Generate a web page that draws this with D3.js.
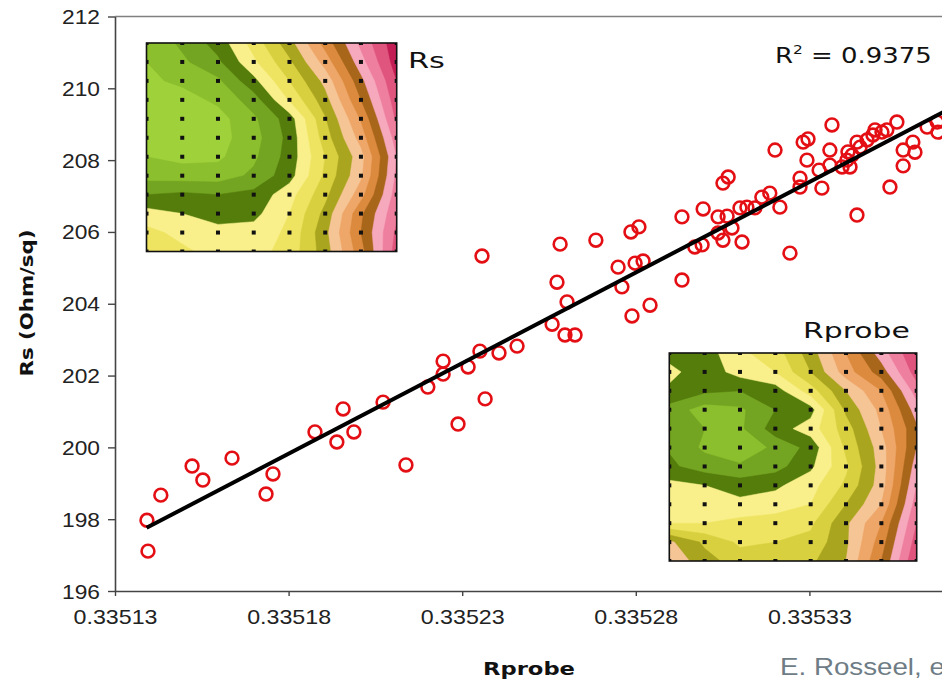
<!DOCTYPE html>
<html><head><meta charset="utf-8">
<script src="https://cdn.jsdelivr.net/npm/d3@7"></script>
<style>body{margin:0;background:#fff}svg{display:block;background:#fff}</style>
</head><body>
<svg id="chart" width="942" height="681"></svg>
<script>
// ---- data ----
const rprobe = [0.3351392,0.3351395,0.3351432,0.3351522,0.3351553,0.3351637,0.3351735,0.3351755,0.3351876,0.3351939,
0.3351957,0.3351988,0.3352072,0.3352138,0.3352201,0.3352245,0.3352245,0.3352288,0.3352317,0.3352351,
0.3352366,0.3352357,0.3352406,0.3352458,0.3352559,0.3352573,0.3352582,0.3352596,0.3352602,0.3352625,
0.3352685,0.3352749,0.3352760,0.3352786,0.3352789,0.3352798,0.3352809,0.3352821,0.3352841,0.3352933,
0.3352933,0.3352970,0.3352991,0.3352994,0.3353037,0.3353063,0.3353051,0.3353066,0.3353037,0.3353051,
0.3353106,0.3353077,0.3353100,0.3353120,0.3353143,0.3353163,0.3353186,0.3353215,0.3353201,0.3353244,
0.3353273,0.3353273,0.3353282,0.3353296,0.3353293,0.3353336,0.3353328,0.3353359,0.3353365,0.3353359,
0.3353394,0.3353417,0.3353411,0.3353437,0.3353446,0.3353437,0.3353466,0.3353483,0.3353489,0.3353509,
0.3353523,0.3353552,0.3353570,0.3353570,0.3353532,0.3353598,0.3353604,0.3353639,0.3353670,0.3353668,
0.3353408,0.3353423];
const rs = [197.97,197.11,198.67,199.48,199.09,199.70,198.70,199.26,200.43,200.15,
201.07,200.43,201.26,199.51,201.68,202.04,202.40,200.65,202.24,202.68,
201.35,205.33,202.63,202.82,203.43,204.60,205.66,203.13,204.05,203.13,
205.77,205.02,204.47,206.00,203.66,205.13,206.14,205.19,203.96,204.66,
206.42,205.58,205.64,206.64,206.42,206.44,207.36,207.53,205.97,205.77,
205.72,206.11,206.67,206.69,206.67,206.97,207.08,206.69,208.28,205.41,
207.50,207.25,208.50,208.59,208.00,207.22,207.72,208.28,208.98,207.86,
207.81,207.81,208.23,208.50,208.36,206.47,208.56,208.70,208.84,208.78,
208.84,209.06,208.28,207.84,207.25,208.50,208.22,208.92,208.78,209.06,
208.00,208.14];
const xTicks = [0.33513,0.33518,0.33523,0.33528,0.33533];
const xTickLabels = ["0.33513","0.33518","0.33523","0.33528","0.33533"];
const yTicks = [196,198,200,202,204,206,208,210,212];
const trendX = [0.3351391, 0.33537];
const trendY = [197.76, 209.41];
const r2Value = "0.9375";
const xTitle = "Rprobe";
const yTitle = "Rs (Ohm/sq)";
const insetTitles = ["Rs","Rprobe"];
const credit = "E. Rosseel, et al.";
// contour maps (12 rows x 8 columns of measurement sites)
const rsMap = [
 [1.2,2.2,3.4,5.4,7.6,10.4,13.25,15.7],
 [1.0,1.8,2.8,4.8,6.8,9.4,12.6,15.5],
 [0.8,1.2,1.8,3.7,6.0,8.3,11.7,15.0],
 [0.7,0.6,1.2,2.5,5.1,7.6,11.0,14.6],
 [0.8,0.4,0.6,1.8,3.5,6.9,10.1,14.2],
 [0.8,0.5,0.6,1.6,3.3,6.5,9.4,13.5],
 [1.0,0.7,0.8,1.8,3.4,6.0,8.6,13.0],
 [1.6,1.5,1.5,2.2,3.6,6.2,8.8,13.2],
 [3.0,3.2,3.0,3.3,4.6,6.7,9.6,13.5],
 [4.4,4.0,3.6,3.7,5.0,7.3,10.8,13.8],
 [5.3,4.7,4.3,4.4,5.2,7.7,11.0,14.2],
 [5.8,5.2,4.6,4.6,5.4,7.5,10.6,14.5]];
const rprobeMap = [
 [3.6,3.5,4.8,5.5,7.5,10.0,12.5,15.0],
 [4.3,3.4,4.4,5.0,7.0,9.5,11.5,14.5],
 [3.8,3.2,3.0,3.5,5.5,8.0,10.0,13.5],
 [2.6,1.5,1.8,3.0,3.6,7.2,9.3,12.5],
 [2.8,2.0,1.8,3.5,4.5,6.5,9.0,11.8],
 [2.9,1.8,1.0,2.3,3.3,6.2,8.5,12.0],
 [3.2,2.5,2.2,2.6,3.8,5.8,8.4,12.5],
 [4.3,4.0,3.5,3.8,4.6,6.2,8.5,13.0],
 [4.4,4.5,4.3,4.5,5.0,7.0,9.0,13.5],
 [5.0,5.0,5.3,5.5,5.8,7.8,10.0,14.0],
 [8.2,6.8,5.8,6.0,6.3,7.8,10.5,14.5],
 [8.8,7.4,6.5,6.5,6.8,8.0,11.0,15.0]];
const bandColors = ["#9fd13a","#8cbf2e","#74a522","#557d0c",
 "#f9f08c","#efe462","#d9d040","#a9a51e",
 "#f6c596","#eea768","#dc8a3e","#a8661a",
 "#f6a8bd","#ee7f9e","#e0557e","#c21e55"];

// ---- chart ----
const svg = d3.select("#chart");
const x = d3.scaleLinear().domain([0.33513, 0.33538]).range([115, 983]);
const y = d3.scaleLinear().domain([196, 212]).range([591, 16.5]);

function stretchTo(sel, target) {
  sel.each(function(){
    const w = this.getComputedTextLength();
    const k = w > 0 ? target / w : 1;
    const t = d3.select(this);
    const base = t.attr("data-base") || "";
    t.attr("transform", base + " scale(" + k + ",1)");
  });
}

// top border
svg.append("line").attr("x1", x(0.33513)).attr("x2", x(0.33538))
  .attr("y1", y(212)).attr("y2", y(212)).attr("stroke", "#808080").attr("stroke-width", 1.5);

// axes
const gy = svg.append("g").attr("transform", "translate(115,0)")
  .call(d3.axisLeft(y).tickValues(yTicks).tickSize(7).tickSizeOuter(0).tickFormat(d3.format("d")));
const gx = svg.append("g").attr("transform", "translate(0,591)")
  .call(d3.axisBottom(x).tickValues(xTicks).tickSize(5).tickSizeOuter(0).tickFormat((d,i) => xTickLabels[i]));
[gx, gy].forEach(g => {
  g.select(".domain").attr("stroke", "#444").attr("stroke-width", 1.6);
  g.selectAll(".tick line").attr("stroke", "#444").attr("stroke-width", 1.4);
  g.selectAll(".tick text").attr("font-family", "'Liberation Sans', Arial, sans-serif")
    .attr("font-size", 20).attr("fill", "#222");
});
gy.selectAll(".tick text").attr("text-anchor", "end").attr("x", 0).attr("dy", "0.35em")
  .attr("data-base", "translate(-15,0)");
stretchTo(gy.selectAll(".tick text"), 38);
gx.selectAll(".tick text").attr("y", 0).attr("dy", "0.71em").attr("data-base", "translate(0,19)");
stretchTo(gx.selectAll(".tick text"), 84);

// points
svg.append("g").selectAll("circle").data(rprobe).join("circle")
  .attr("cx", (d) => x(d)).attr("cy", (d, i) => y(rs[i])).attr("r", 6.4)
  .attr("fill", "none").attr("stroke", "#e40f14").attr("stroke-width", 2.6);

// trend line
svg.append("line").attr("x1", x(trendX[0])).attr("y1", y(trendY[0]))
  .attr("x2", x(trendX[1])).attr("y2", y(trendY[1]))
  .attr("stroke", "#000").attr("stroke-width", 4).attr("stroke-linecap", "butt");

// insets
function drawInset(grid, x0, y0, x1, y1, id) {
  const ny = grid.length, nx = grid[0].length;
  const vals = [];
  for (let j = 0; j < ny; j++) for (let i = 0; i < nx; i++) vals.push(grid[j][i]);
  const cont = d3.contours().size([nx, ny]).thresholds(d3.range(0, 16, 1))(vals);
  const sx = d3.scaleLinear().domain([0.5, nx - 0.5]).range([x0, x1]);
  const sy = d3.scaleLinear().domain([0.5, ny - 0.5]).range([y0, y1]);
  const path = d3.geoPath(d3.geoTransform({ point(px, py) { this.stream.point(sx(px), sy(py)); } }));
  svg.append("clipPath").attr("id", id).append("rect")
    .attr("x", x0).attr("y", y0).attr("width", x1 - x0).attr("height", y1 - y0);
  const g = svg.append("g").attr("clip-path", "url(#" + id + ")");
  g.selectAll("path").data(cont).join("path").attr("d", path)
    .attr("fill", d => bandColors[d.value]).attr("stroke", d => bandColors[d.value]).attr("stroke-width", 0.5);
  const pts = [];
  for (let j = 0; j < ny; j++) for (let i = 0; i < nx; i++) pts.push([i + 0.5, j + 0.5]);
  g.selectAll("rect.dot").data(pts).join("rect").attr("class", "dot")
    .attr("x", d => sx(d[0]) - 2).attr("y", d => sy(d[1]) - 2).attr("width", 4).attr("height", 4).attr("fill", "#111");
  svg.append("rect").attr("x", x0).attr("y", y0).attr("width", x1 - x0).attr("height", y1 - y0)
    .attr("fill", "none").attr("stroke", "#111").attr("stroke-width", 1.6);
}
drawInset(rsMap, 146.5, 43, 396.7, 251.5, "clipRs");
drawInset(rprobeMap, 669.3, 353, 916.7, 561, "clipRp");

const sansV = "'DejaVu Sans', Verdana, sans-serif";
const t1 = svg.append("text").text(insetTitles[0]).attr("font-family", sansV).attr("font-size", 20.5)
  .attr("fill", "#111").attr("data-base", "translate(408,68)");
stretchTo(t1, 37);
const t2 = svg.append("text").text(insetTitles[1]).attr("font-family", sansV).attr("font-size", 20.5)
  .attr("fill", "#111").attr("data-base", "translate(803,338)");
stretchTo(t2, 107);

// R^2
const r2 = svg.append("text").attr("font-family", sansV).attr("font-size", 22).attr("fill", "#111")
  .attr("data-base", "translate(775,63)");
r2.append("tspan").text("R");
r2.append("tspan").text("2").attr("font-size", 13).attr("dy", -9);
r2.append("tspan").text(" = " + r2Value).attr("dy", 9);
stretchTo(r2, 157);

// axis titles
const xt = svg.append("text").text(xTitle).attr("font-family", sansV).attr("font-weight", "bold")
  .attr("font-size", 18).attr("fill", "#111").attr("data-base", "translate(483,675)");
stretchTo(xt, 92);
const yt = svg.append("text").text(yTitle).attr("font-family", sansV).attr("font-weight", "bold")
  .attr("font-size", 18).attr("fill", "#111").attr("text-anchor", "middle")
  .attr("data-base", "translate(33,303) rotate(-90)");
stretchTo(yt, 147);

// credit (cut at the right edge, as in the reference)
const cr = svg.append("text").text(credit).attr("font-family", "'Liberation Sans', Arial, sans-serif")
  .attr("font-size", 23.5).attr("fill", "#6e7c85");
cr.attr("transform", "translate(780,675) scale(1.18,1)");
</script>
</body></html>
